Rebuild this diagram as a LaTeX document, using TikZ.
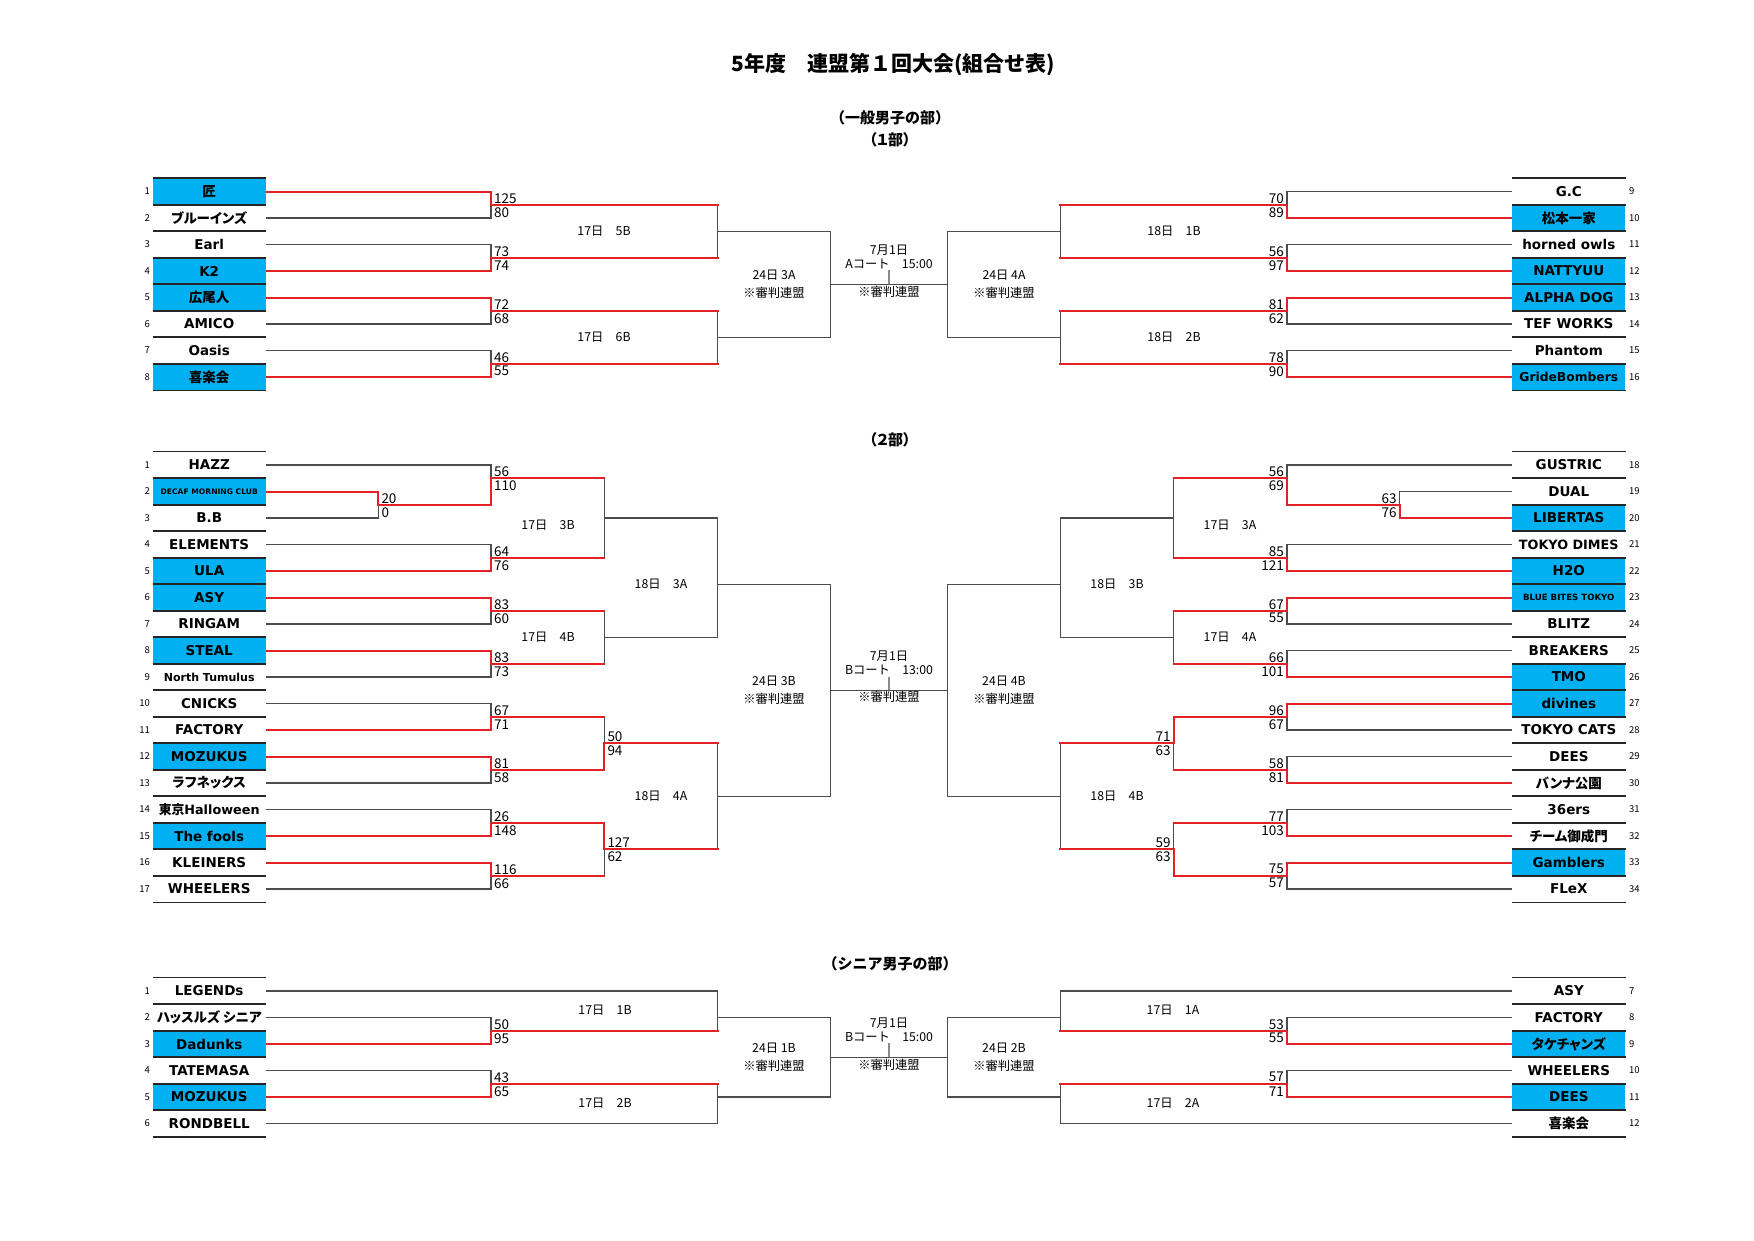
\documentclass[tikz,border=0pt]{standalone}
\usepackage{fontspec}
\setmainfont{DejaVu Sans}
\newfontfamily\jp{Noto Sans CJK JP}
\newfontfamily\jpp{Noto Sans CJK JP}[RawFeature=+palt]
\definecolor{bx}{HTML}{00B0F0}
\definecolor{winred}{HTML}{E32227}
\pgfdeclarelayer{paper}
\pgfdeclarelayer{laywire}
\pgfdeclarelayer{laywin}
\pgfsetlayers{paper,laywire,laywin,main}
\tikzset{
  team/.style={minimum width=113pt, minimum height=26.5pt, inner sep=0pt,
    font=\bfseries\fontsize{13.5}{14}\selectfont},
  rule/.style={draw=black!85, line width=1.8pt},
  win/.style={draw=winred, line width=2pt, line cap=rect},
  wire/.style={draw=black!70, line width=1.3pt, line cap=rect},
  courttick/.style={draw=black!45, line width=1.4pt},
  sc/.style={inner sep=0pt, font=\jp\fontsize{13.5}{14}\selectfont},
  lbl/.style={inner sep=0pt, font=\jp\fontsize{12.3}{13}\selectfont},
  num/.style={inner sep=0pt, font=\jp\fontsize{9.5}{10}\selectfont},
  head/.style={inner sep=0pt, font=\jp\bfseries\fontsize{15}{16}\selectfont}
}
% one leg of the bracket: across to the match, then up or down to it
\newcommand{\leg}[4]{%
  \begin{pgfonlayer}{lay#1}\path[#1] (#3) -- (#3 -| #4);\end{pgfonlayer}%
  \begin{pgfonlayer}{lay#2}\path[#2] (#3 -| #4) -- (#4);\end{pgfonlayer}}

\begin{document}
\begin{tikzpicture}[x=1pt, y=-1pt]
\begin{pgfonlayer}{paper}
  \fill[white] (0,0) rectangle (1754,1240);
\end{pgfonlayer}

% headings
\node[head, font=\jp\bfseries\fontsize{21}{22}\selectfont] (title) at (893,65) {5年度　連盟第１回大会(組合せ表)};
\node[head] (gen) at (890,117.5) {（一般男子の部）};
\node[head, font=\jpp\bfseries\fontsize{15}{16}\selectfont] (div1) at (890,139.8) {（１部）};
\node[head, font=\jpp\bfseries\fontsize{15}{16}\selectfont] (div2) at (890,440) {（２部）};
\node[head] (sen) at (890,964) {（シニア男子の部）};

% ---------- 1部 ----------
\foreach \i/\nm/\col in {1/{\jpp 匠}/bx, 2/{\jpp ブルーインズ}/white, 3/Earl/white, 4/K2/bx,
    5/{\jpp 広尾人}/bx, 6/AMICO/white, 7/Oasis/white, 8/{\jpp 喜楽会}/bx}
  \node[team, fill=\col] (a\i) at (209.2, {191.5+(\i-1)*26.5}) {\nm};
\foreach \i/\nm/\col in {9/G.C/white, 10/{\jpp 松本一家}/bx, 11/horned owls/white, 12/NATTYUU/bx,
    13/ALPHA DOG/bx, 14/TEF WORKS/white, 15/Phantom/white, 16/{\fontsize{12.3}{13}\selectfont GrideBombers}/bx}
  \node[team, fill=\col] (a\i) at (1568.8, {191.5+(\i-9)*26.5}) {\nm};
\foreach \i in {1,...,16}
  \draw[rule] (a\i.north west) -- (a\i.north east) (a\i.south west) -- (a\i.south east);
\foreach \i in {1,...,8}
  \node[num, anchor=east] (na\i) at (150, {191.5+(\i-1)*26.5}) {\i};
\foreach \i in {9,...,16}
  \node[num, anchor=west] (na\i) at (1629, {191.5+(\i-9)*26.5}) {\i};

\foreach \n/\x/\r in {Alp1/491/1.5, Alp2/491/3.5, Alp3/491/5.5, Alp4/491/7.5,
    Alq1/717.7/2.5, Alq2/717.7/6.5, Als1/830.3/4.5,
    Arp1/1287/1.5, Arp2/1287/3.5, Arp3/1287/5.5, Arp4/1287/7.5,
    Arq1/1060.3/2.5, Arq2/1060.3/6.5, Ars1/947.7/4.5}
  \coordinate (\n) at (\x, {191.5+(\r-1)*26.5});

\foreach \h/\v/\p/\q in {win/win/a1/Alp1, wire/wire/a2/Alp1, wire/wire/a3/Alp2, win/win/a4/Alp2,
    win/win/a5/Alp3, wire/wire/a6/Alp3, wire/wire/a7/Alp4, win/win/a8/Alp4,
    win/wire/Alp1/Alq1, win/wire/Alp2/Alq1, win/wire/Alp3/Alq2, win/wire/Alp4/Alq2,
    wire/wire/Alq1/Als1, wire/wire/Alq2/Als1, wire/wire/Als1/Ars1,
    wire/wire/a9/Arp1, win/win/a10/Arp1, wire/wire/a11/Arp2, win/win/a12/Arp2,
    win/win/a13/Arp3, wire/wire/a14/Arp3, wire/wire/a15/Arp4, win/win/a16/Arp4,
    win/wire/Arp1/Arq1, win/wire/Arp2/Arq1, win/wire/Arp3/Arq2, win/wire/Arp4/Arq2,
    wire/wire/Arq1/Ars1, wire/wire/Arq2/Ars1}
  {\leg{\h}{\v}{\p}{\q}}

\foreach \m/\u/\d in {Alp1/125/80, Alp2/73/74, Alp3/72/68, Alp4/46/55}{
  \node[sc, anchor=west] (\m-hi) at ([shift={(3,-6.5)}]\m) {\u};
  \node[sc, anchor=west] (\m-lo) at ([shift={(3,7.5)}]\m) {\d};}
\foreach \m/\u/\d in {Arp1/70/89, Arp2/56/97, Arp3/81/62, Arp4/78/90}{
  \node[sc, anchor=east] (\m-hi) at ([shift={(-3,-6.5)}]\m) {\u};
  \node[sc, anchor=east] (\m-lo) at ([shift={(-3,7.5)}]\m) {\d};}

\foreach \n/\x/\y/\txt in {Al1/604/231.25/17日　5B, Al2/604/337.25/17日　6B,
    Al3/774/275.25/24日 3A, Al4/774/293.25/※審判連盟,
    Ar1/1174/231.25/18日　1B, Ar2/1174/337.25/18日　2B,
    Ar3/1004/275.25/24日 4A, Ar4/1004/293.25/※審判連盟,
    Ad/889/250/7月1日, Act/889/263.5/Aコート　15:00, Aref/889/291.75/※審判連盟}
  \node[lbl] (\n) at (\x,\y) {\txt};
\draw[courttick] ([yshift=-1.5pt]Act.south) -- (Act |- Als1);

% ---------- 2部 ----------
\foreach \i/\nm/\col in {1/HAZZ/white, 2/{\fontsize{7.6}{8}\selectfont DECAF MORNING CLUB}/bx,
    3/B.B/white, 4/ELEMENTS/white, 5/ULA/bx, 6/ASY/bx, 7/RINGAM/white, 8/STEAL/bx,
    9/{\fontsize{11}{12}\selectfont North Tumulus}/white, 10/CNICKS/white, 11/FACTORY/white,
    12/MOZUKUS/bx, 13/{\jpp ラフネックス}/white,
    14/{\fontsize{12.8}{13}\selectfont{\jpp 東京}Halloween}/white,
    15/The fools/bx, 16/KLEINERS/white, 17/WHEELERS/white}
  \node[team, fill=\col] (b\i) at (209.2, {465+(\i-1)*26.5}) {\nm};
\foreach \i/\nm/\col in {18/GUSTRIC/white, 19/DUAL/white, 20/LIBERTAS/bx,
    21/{\fontsize{12.8}{13}\selectfont TOKYO DIMES}/white, 22/H2O/bx,
    23/{\fontsize{8.6}{9}\selectfont BLUE BITES TOKYO}/bx, 24/BLITZ/white, 25/BREAKERS/white,
    26/TMO/bx, 27/divines/bx, 28/TOKYO CATS/white, 29/DEES/white, 30/{\jpp バンナ公園}/white,
    31/36ers/white, 32/{\jpp チーム御成門}/white, 33/Gamblers/bx, 34/FLeX/white}
  \node[team, fill=\col] (b\i) at (1568.8, {465+(\i-18)*26.5}) {\nm};
\foreach \i in {1,...,34}
  \draw[rule] (b\i.north west) -- (b\i.north east) (b\i.south west) -- (b\i.south east);
\foreach \i in {1,...,17}
  \node[num, anchor=east] (nb\i) at (150, {465+(\i-1)*26.5}) {\i};
\foreach \i in {18,...,34}
  \node[num, anchor=west] (nb\i) at (1629, {465+(\i-18)*26.5}) {\i};

\foreach \n/\x/\r in {Blx0/378.3/2.5, Blp1/491/1.5, Blp2/491/4.5, Blp3/491/6.5, Blp4/491/8.5,
    Blp5/491/10.5, Blp6/491/12.5, Blp7/491/14.5, Blp8/491/16.5,
    Blq1/604.3/3, Blq2/604.3/7.5, Blq3/604.3/11.5, Blq4/604.3/15.5,
    Blr1/717.7/5.5, Blr2/717.7/13.5, Bls1/830.3/9.5,
    Brx0/1399.7/2.5, Brp1/1287/1.5, Brp2/1287/4.5, Brp3/1287/6.5, Brp4/1287/8.5,
    Brp5/1287/10.5, Brp6/1287/12.5, Brp7/1287/14.5, Brp8/1287/16.5,
    Brq1/1173.7/3, Brq2/1173.7/7.5, Brq3/1173.7/11.5, Brq4/1173.7/15.5,
    Brr1/1060.3/5.5, Brr2/1060.3/13.5, Brs1/947.7/9.5}
  \coordinate (\n) at (\x, {465+(\r-1)*26.5});

\foreach \h/\v/\p/\q in {win/win/b2/Blx0, wire/wire/b3/Blx0,
    wire/wire/b1/Blp1, win/win/Blx0/Blp1, wire/wire/b4/Blp2, win/win/b5/Blp2,
    win/win/b6/Blp3, wire/wire/b7/Blp3, win/win/b8/Blp4, wire/wire/b9/Blp4,
    wire/wire/b10/Blp5, win/win/b11/Blp5, win/win/b12/Blp6, wire/wire/b13/Blp6,
    wire/wire/b14/Blp7, win/win/b15/Blp7, win/win/b16/Blp8, wire/wire/b17/Blp8,
    win/wire/Blp1/Blq1, win/wire/Blp2/Blq1, win/wire/Blp3/Blq2, win/wire/Blp4/Blq2,
    win/wire/Blp5/Blq3, win/win/Blp6/Blq3, win/win/Blp7/Blq4, win/wire/Blp8/Blq4,
    wire/wire/Blq1/Blr1, wire/wire/Blq2/Blr1, win/wire/Blq3/Blr2, win/wire/Blq4/Blr2,
    wire/wire/Blr1/Bls1, wire/wire/Blr2/Bls1, wire/wire/Bls1/Brs1}
  {\leg{\h}{\v}{\p}{\q}}
\foreach \h/\v/\p/\q in {wire/wire/b19/Brx0, win/win/b20/Brx0,
    wire/wire/b18/Brp1, win/win/Brx0/Brp1, wire/wire/b21/Brp2, win/win/b22/Brp2,
    win/win/b23/Brp3, wire/wire/b24/Brp3, wire/wire/b25/Brp4, win/win/b26/Brp4,
    win/win/b27/Brp5, wire/wire/b28/Brp5, wire/wire/b29/Brp6, win/win/b30/Brp6,
    wire/wire/b31/Brp7, win/win/b32/Brp7, win/win/b33/Brp8, wire/wire/b34/Brp8,
    win/wire/Brp1/Brq1, win/wire/Brp2/Brq1, win/wire/Brp3/Brq2, win/wire/Brp4/Brq2,
    win/win/Brp5/Brq3, win/wire/Brp6/Brq3, win/wire/Brp7/Brq4, win/win/Brp8/Brq4,
    wire/wire/Brq1/Brr1, wire/wire/Brq2/Brr1, win/wire/Brq3/Brr2, win/wire/Brq4/Brr2,
    wire/wire/Brr1/Brs1, wire/wire/Brr2/Brs1}
  {\leg{\h}{\v}{\p}{\q}}

\foreach \m/\u/\d in {Blx0/20/0, Blp1/56/110, Blp2/64/76, Blp3/83/60, Blp4/83/73,
    Blp5/67/71, Blp6/81/58, Blp7/26/148, Blp8/116/66, Blq3/50/94, Blq4/127/62}{
  \node[sc, anchor=west] (\m-hi) at ([shift={(3,-6.5)}]\m) {\u};
  \node[sc, anchor=west] (\m-lo) at ([shift={(3,7.5)}]\m) {\d};}
\foreach \m/\u/\d in {Brx0/63/76, Brp1/56/69, Brp2/85/121, Brp3/67/55, Brp4/66/101,
    Brp5/96/67, Brp6/58/81, Brp7/77/103, Brp8/75/57, Brq3/71/63, Brq4/59/63}{
  \node[sc, anchor=east] (\m-hi) at ([shift={(-3,-6.5)}]\m) {\u};
  \node[sc, anchor=east] (\m-lo) at ([shift={(-3,7.5)}]\m) {\d};}

\foreach \n/\x/\y/\txt in {Bl1/548/525.5/17日　3B, Bl2/548/637.25/17日　4B,
    Bl3/661/584.25/18日　3A, Bl4/661/796.25/18日　4A,
    Bl5/774/681.25/24日 3B, Bl6/774/699.25/※審判連盟,
    Br1/1230/525.5/17日　3A, Br2/1230/637.25/17日　4A,
    Br3/1117/584.25/18日　3B, Br4/1117/796.25/18日　4B,
    Br5/1004/681.25/24日 4B, Br6/1004/699.25/※審判連盟,
    Bd/889/656.5/7月1日, Bct/889/670/Bコート　13:00, Bref/889/697/※審判連盟}
  \node[lbl] (\n) at (\x,\y) {\txt};
\draw[courttick] ([yshift=-1.5pt]Bct.south) -- (Bct |- Bls1);

% ---------- シニア ----------
\foreach \i/\nm/\col in {1/LEGENDs/white, 2/{\jpp ハッスルズ シニア}/white, 3/Dadunks/bx,
    4/TATEMASA/white, 5/MOZUKUS/bx, 6/RONDBELL/white}
  \node[team, fill=\col] (c\i) at (209.2, {991+(\i-1)*26.5}) {\nm};
\foreach \i/\nm/\col in {7/ASY/white, 8/FACTORY/white, 9/{\jpp タケチャンズ}/bx,
    10/WHEELERS/white, 11/DEES/bx, 12/{\jpp 喜楽会}/white}
  \node[team, fill=\col] (c\i) at (1568.8, {991+(\i-7)*26.5}) {\nm};
\foreach \i in {1,...,12}
  \draw[rule] (c\i.north west) -- (c\i.north east) (c\i.south west) -- (c\i.south east);
\foreach \i in {1,...,6}
  \node[num, anchor=east] (nc\i) at (150, {991+(\i-1)*26.5}) {\i};
\foreach \i in {7,...,12}
  \node[num, anchor=west] (nc\i) at (1629, {991+(\i-7)*26.5}) {\i};

\foreach \n/\x/\r in {Clp1/491/2.5, Clp2/491/4.5, Clq1/717.7/2, Clq2/717.7/5, Cls1/830.3/3.5,
    Crp1/1287/2.5, Crp2/1287/4.5, Crq1/1060.3/2, Crq2/1060.3/5, Crs1/947.7/3.5}
  \coordinate (\n) at (\x, {991+(\r-1)*26.5});

\foreach \h/\v/\p/\q in {wire/wire/c2/Clp1, win/win/c3/Clp1, wire/wire/c4/Clp2, win/win/c5/Clp2,
    wire/wire/c1/Clq1, win/wire/Clp1/Clq1, win/wire/Clp2/Clq2, wire/wire/c6/Clq2,
    wire/wire/Clq1/Cls1, wire/wire/Clq2/Cls1, wire/wire/Cls1/Crs1,
    wire/wire/c8/Crp1, win/win/c9/Crp1, wire/wire/c10/Crp2, win/win/c11/Crp2,
    wire/wire/c7/Crq1, win/wire/Crp1/Crq1, win/wire/Crp2/Crq2, wire/wire/c12/Crq2,
    wire/wire/Crq1/Crs1, wire/wire/Crq2/Crs1}
  {\leg{\h}{\v}{\p}{\q}}

\foreach \m/\u/\d in {Clp1/50/95, Clp2/43/65}{
  \node[sc, anchor=west] (\m-hi) at ([shift={(3,-6.5)}]\m) {\u};
  \node[sc, anchor=west] (\m-lo) at ([shift={(3,7.5)}]\m) {\d};}
\foreach \m/\u/\d in {Crp1/53/55, Crp2/57/71}{
  \node[sc, anchor=east] (\m-hi) at ([shift={(-3,-6.5)}]\m) {\u};
  \node[sc, anchor=east] (\m-lo) at ([shift={(-3,7.5)}]\m) {\d};}

\foreach \n/\x/\y/\txt in {Cl1/605/1010.5/17日　1B, Cl2/605/1103/17日　2B,
    Cl3/774/1048.25/24日 1B, Cl4/774/1066.25/※審判連盟,
    Cr1/1173/1010.5/17日　1A, Cr2/1173/1103/17日　2A,
    Cr3/1004/1048.25/24日 2B, Cr4/1004/1066.25/※審判連盟,
    Cd/889/1023/7月1日, Cct/889/1036.5/Bコート　15:00, Cref/889/1064.75/※審判連盟}
  \node[lbl] (\n) at (\x,\y) {\txt};
\draw[courttick] ([yshift=-1.5pt]Cct.south) -- (Cct |- Cls1);
\end{tikzpicture}
\end{document}
